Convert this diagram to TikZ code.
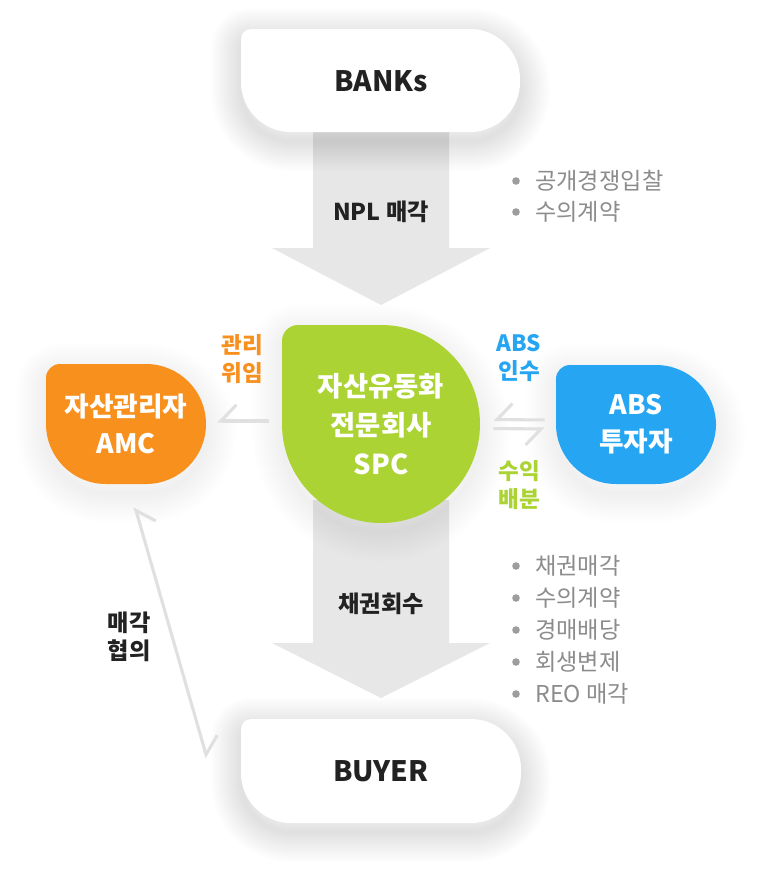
\documentclass[tikz,border=0pt]{standalone}
\usepackage{fontspec}
\setmainfont{Noto Sans CJK KR}
\usepackage{xcolor}
\usepackage{tikz}
\usetikzlibrary{arrows.meta}
\definecolor{amcorange}{HTML}{F8901E}
\definecolor{spcgreen}{HTML}{AAD333}
\definecolor{absblue}{HTML}{26A5F2}
\definecolor{flowgray}{HTML}{E7E7E7}
\definecolor{linegray}{HTML}{E0E0E0}
\definecolor{notegray}{HTML}{8C8C8C}
\definecolor{textdark}{HTML}{222222}
\newcommand{\pxu}{0.025cm}
% left, top, right, bottom (in pixels, y down), small radius, big radius
\newcommand{\leafpath}[6]{({#1+#5},-#2) -- ({#3-#6},-#2) arc[start angle=90,end angle=0,radius=#6*\pxu] -- (#3,{-#4+#6}) arc[start angle=0,end angle=-90,radius=#6*\pxu] -- ({#1+#6},-#4) arc[start angle=-90,end angle=-180,radius=#6*\pxu] -- (#1,{-#2-#5}) arc[start angle=180,end angle=90,radius=#5*\pxu] -- cycle}
\newcommand{\leafshadow}[7]{\foreach \w in {4,8,...,60} {\draw[line width=\w*0.709pt, black, draw opacity=#7, yshift=-9*\pxu] \leafpath{#1}{#2}{#3}{#4}{#5}{#6};}}
\begin{document}
\begin{tikzpicture}[x=\pxu, y=\pxu,
	boxlabel/.style={font=\bfseries\fontsize{20}{24}\selectfont, text=textdark},
	leaflabel/.style={font=\bfseries\fontsize{19}{26.5}\selectfont, text=white, align=center, inner sep=0pt},
	flowlabel/.style={font=\bfseries\fontsize{16.5}{19.5}\selectfont, text=textdark, align=center},
	sidelabel/.style={font=\bfseries\fontsize{16}{19.5}\selectfont, align=center},
	notelabel/.style={font=\fontsize{16.5}{19}\selectfont, text=notegray, anchor=west, inner sep=0pt},
	harpoonline/.style={linegray, line width=2.2pt, -{Straight Barb[harpoon,swap,length=11pt,width=23pt]}}]
			%   %   %   %   %   %   %   %   %   %   %
			%   Canvas
				\fill[white] (0,0) rectangle (760,-884);
				\useasboundingbox (0,0) rectangle (760,-884);
			%   %   %   %   %   %   %   %   %   %   %
			%   Flow BANKs -> SPC
				\fill[flowgray] (313,-120) -- (449,-120) -- (449,-248) -- (490,-248) -- (381,-305) -- (272,-248) -- (313,-248) -- cycle;
			%   %   %   %   %   %   %   %   %   %   %
			%   Flow SPC -> BUYER
				\fill[flowgray] (313,-500) -- (449,-500) -- (449,-643) -- (490,-643) -- (381,-698) -- (272,-643) -- (313,-643) -- cycle;
			%   %   %   %   %   %   %   %   %   %   %
			%   BANKs
				\leafshadow{241}{29}{520}{132}{10}{50}{0.006}
				\fill[white] \leafpath{241}{29}{520}{132}{10}{50};
				\node[boxlabel, minimum width=279*\pxu, minimum height=103*\pxu] (banks) at (381,-81) {BANKs};
			%   %   %   %   %   %   %   %   %   %   %
			%   BUYER
				\leafshadow{241}{719}{521}{823}{10}{50}{0.006}
				\fill[white] \leafpath{241}{719}{521}{823}{10}{50};
				\node[boxlabel, minimum width=280*\pxu, minimum height=104*\pxu] (buyer) at (381,-771) {BUYER};
			%   %   %   %   %   %   %   %   %   %   %
			%   SPC
				\leafshadow{282}{325}{480}{523}{16}{99}{0.004}
				\fill[spcgreen] \leafpath{282}{325}{480}{523}{16}{99};
				\node[leaflabel, font=\bfseries\fontsize{19.5}{27.5}\selectfont, minimum size=198*\pxu] (spc) at (381,-424) {자산유동화\\전문회사\\SPC};
			%   %   %   %   %   %   %   %   %   %   %
			%   AMC
				\leafshadow{46}{364}{206}{484}{14}{60}{0.004}
				\fill[amcorange] \leafpath{46}{364}{206}{484}{14}{60};
				\node[leaflabel, minimum width=160*\pxu, minimum height=120*\pxu] (amc) at (126,-424) {자산관리자\\AMC};
			%   %   %   %   %   %   %   %   %   %   %
			%   ABS investor
				\leafshadow{556}{365}{716}{484}{14}{60}{0.004}
				\fill[absblue] \leafpath{556}{365}{716}{484}{14}{60};
				\node[leaflabel, minimum width=160*\pxu, minimum height=119*\pxu] (absinv) at (636,-424.5) {ABS\\투자자};
			%   %   %   %   %   %   %   %   %   %   %
			%   Flow labels
				\node[flowlabel] (nplsale) at (381,-212) {NPL 매각};
				\node[flowlabel] (recovery) at (381,-604) {채권회수};
				\node[flowlabel] (dealtalk) at (129,-637) {매각\\협의};
			%   %   %   %   %   %   %   %   %   %   %
			%   Side labels
				\node[sidelabel, text=amcorange] (mandate) at (242,-359) {관리\\위임};
				\node[sidelabel, text=absblue] (absbuy) at (519,-358) {ABS\\인수};
				\node[sidelabel, text=spcgreen] (payout) at (519,-485) {수익\\배분};
			%   %   %   %   %   %   %   %   %   %   %
			%   SPC <-> AMC, SPC <-> ABS
				\draw[harpoonline, shorten <=13*\pxu, shorten >=11*\pxu] ([yshift=3*\pxu]spc.west) -- ([yshift=3*\pxu]amc.east);
				\draw[harpoonline, shorten <=11*\pxu, shorten >=13*\pxu] ([yshift=4.5*\pxu]absinv.west) -- ([yshift=4.5*\pxu]spc.east);
				\draw[harpoonline, shorten <=13*\pxu, shorten >=11*\pxu] ([yshift=-4.5*\pxu]spc.east) -- ([yshift=-4.5*\pxu]absinv.west);
			%   %   %   %   %   %   %   %   %   %   %
			%   AMC <-> BUYER
				\coordinate (dealtop) at (135,-507);
				\coordinate (dealbot) at (207,-758);
				\draw[linegray, line width=2.2pt, {Straight Barb[harpoon,swap,length=11pt,width=23pt]}-{Straight Barb[harpoon,length=11pt,width=23pt]}] (dealtop) -- (dealbot);
			%   %   %   %   %   %   %   %   %   %   %
			%   Sale methods
				\foreach \t [count=\i] in {공개경쟁입찰, 수의계약} {
					\fill[notegray!85] (516,{-181-31*(\i-1)}) circle[radius=3.8*\pxu];
					\node[notelabel] (sale\i) at (535,{-181-31*(\i-1)}) {\t};
				}
			%   %   %   %   %   %   %   %   %   %   %
			%   Recovery methods
				\foreach \t [count=\i] in {채권매각, 수의계약, 경매배당, 회생변제, REO 매각} {
					\fill[notegray!85] (516,{-566-32*(\i-1)}) circle[radius=3.8*\pxu];
					\node[notelabel] (way\i) at (535,{-566-32*(\i-1)}) {\t};
				}
\end{tikzpicture}
\end{document}
